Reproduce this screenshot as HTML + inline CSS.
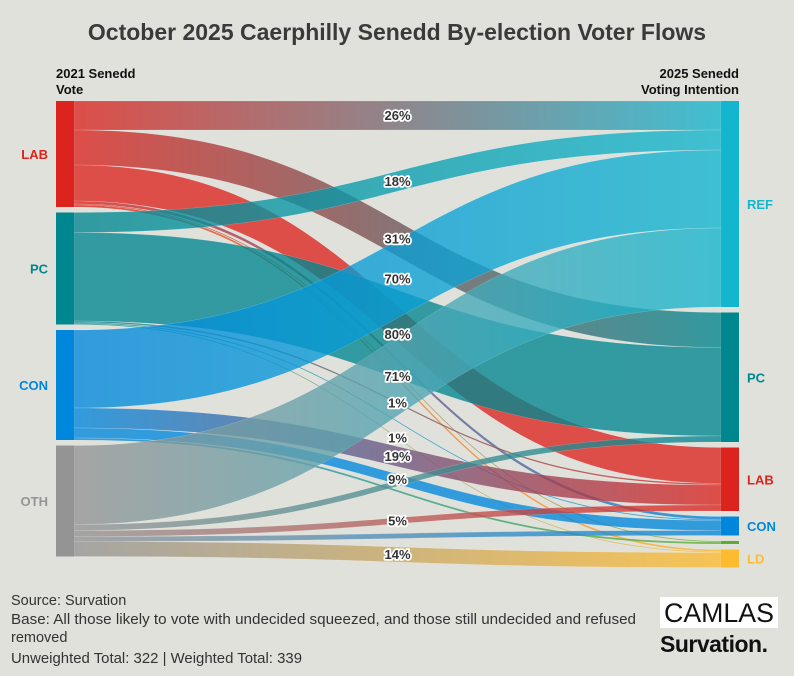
<!DOCTYPE html>
<html><head><meta charset="utf-8"><style>
body{margin:0;background:#e1e1db;}
svg{display:block;font-family:"Liberation Sans",sans-serif;}
.lbl{font-weight:bold;font-size:13px;fill:#333;stroke:#fff;stroke-width:3.5px;paint-order:stroke;stroke-linejoin:round;}
.foot{font-size:14.5px;fill:#333;}
</style></head><body>
<svg id="chart" width="794" height="676" viewBox="0 0 794 676">
<rect width="794" height="676" fill="#e1e1db"/>
<text x="397" y="40" text-anchor="middle" font-size="23" font-weight="bold" fill="#3a3a3a">October 2025 Caerphilly Senedd By-election Voter Flows</text>
<text x="56" y="78" font-size="13" font-weight="bold" fill="#111"><tspan x="56">2021 Senedd</tspan><tspan x="56" dy="16">Vote</tspan></text>
<text x="739" y="78" font-size="13" font-weight="bold" fill="#111" text-anchor="end"><tspan x="739">2025 Senedd</tspan><tspan x="739" dy="16">Voting Intention</tspan></text>
<defs id="defs"></defs>
<g id="links"></g><g id="nodes"></g><g id="labels"></g>
<text class="foot" x="11" y="605">Source: Survation</text>
<text class="foot" x="11" y="624" textLength="625" lengthAdjust="spacingAndGlyphs">Base: All those likely to vote with undecided squeezed, and those still undecided and refused</text>
<text class="foot" x="11" y="642">removed</text>
<text class="foot" x="11" y="663" textLength="291" lengthAdjust="spacingAndGlyphs">Unweighted Total: 322 | Weighted Total: 339</text>
<rect x="660" y="597" width="118" height="31" fill="#fff"/>
<text x="719" y="622" text-anchor="middle" font-size="27" fill="#111" textLength="110" lengthAdjust="spacingAndGlyphs">CAMLAS</text>
<text x="660" y="652" font-size="23" font-weight="bold" fill="#111" letter-spacing="-0.5">Survation.</text>
</svg>
<script>
const leftNodes=["LAB","PC","CON","OTH"];
const rightNodes=["REF","PC","LAB","CON","GRN","LD"];
const leftColors=["#dc241f","#00868f","#0087dc","#949494"];
const rightColors=["#12b6cf","#00868f","#dc241f","#0087dc","#5fad2e","#fdbb30"];
const rightShow=["REF","PC","LAB","CON","","LD"];
// flows: source index, target index, weighted value, label
const flowSrc=[0,0,0,0,0,0, 1,1,1,1,1, 2,2,2,2, 3,3,3,3,3];
const flowTgt=[0,1,2,3,4,5, 0,1,2,3,5, 0,2,3,4, 0,1,2,3,5];
const flowVal=[29,35,36,3,1,2, 20,88.5,1.5,1,1, 78,20,10,2, 79,6,6,5,15];
const flowLbl=["26%","31%","","","","", "18%","80%","1%","","1%", "70%","19%","9%","", "71%","","5%","","14%"];

const NS="http://www.w3.org/2000/svg";
const X0=56,NW=18,X1=721,Y0=101,GAP=5.5,K=1;
function mk(t,a){const e=document.createElementNS(NS,t);for(const n in a)e.setAttribute(n,a[n]);return e;}
function layout(n,side){const tot=new Array(n).fill(0);flowVal.forEach((v,i)=>{tot[side?flowTgt[i]:flowSrc[i]]+=v;});
 const y=[];let c=Y0;for(let i=0;i<n;i++){y.push(c);c+=tot[i]*K+GAP;}return {y,tot};}
const Lay=layout(leftNodes.length,0),Ray=layout(rightNodes.length,1);
const lOff=Lay.y.slice();
const defsEl=document.getElementById('defs'),gL=document.getElementById('links'),gLab=document.getElementById('labels'),gN=document.getElementById('nodes');
const order=flowVal.map((v,i)=>i);
const geo=[];
order.forEach(i=>{const s=flowSrc[i],h=flowVal[i]*K;geo[i]={sy:lOff[s],ty:0,h};lOff[s]+=h;});
for(let t=0;t<rightNodes.length;t++){let c=Ray.y[t];order.filter(i=>flowTgt[i]===t).sort((a,b)=>flowSrc[a]-flowSrc[b]).forEach(i=>{geo[i].ty=c;c+=geo[i].h;});}
const xa=X0+NW,xb=X1,xm=(xa+xb)/2;
order.forEach(i=>{const g=geo[i],s=flowSrc[i],t=flowTgt[i];
 const gr=mk('linearGradient',{id:'g'+i,gradientUnits:'userSpaceOnUse',x1:xa,y1:0,x2:xb,y2:0});
 gr.appendChild(mk('stop',{offset:'0','stop-color':leftColors[s]}));gr.appendChild(mk('stop',{offset:'1','stop-color':rightColors[t]}));defsEl.appendChild(gr);
 const d=`M${xa},${g.sy} C${xm},${g.sy} ${xm},${g.ty} ${xb},${g.ty} L${xb},${g.ty+g.h} C${xm},${g.ty+g.h} ${xm},${g.sy+g.h} ${xa},${g.sy+g.h} Z`;
 const p=mk('path',{d,fill:`url(#g${i})`,'fill-opacity':'0.78',stroke:'rgba(255,255,255,0.25)','stroke-width':'0.5'});
 
 
 gL.appendChild(p);
 if(flowLbl[i]){const y=(g.sy+g.ty+g.h)/2;const tx=mk('text',{x:xm,y:y+4.5,'text-anchor':'middle',class:'lbl'});tx.textContent=flowLbl[i];
  
  
  gLab.appendChild(tx);}
});
leftNodes.forEach((n,i)=>{const h=Lay.tot[i]*K;const r=mk('rect',{x:X0,y:Lay.y[i],width:NW,height:h,fill:leftColors[i]});
 
 
 gN.appendChild(r);
 const tx=mk('text',{x:48,y:Lay.y[i]+h/2+5,'text-anchor':'end','font-size':'13','font-weight':'bold',fill:leftColors[i]});tx.textContent=n;
 
 
 gN.appendChild(tx);});
rightNodes.forEach((n,i)=>{const h=Ray.tot[i]*K;const r=mk('rect',{x:X1,y:Ray.y[i],width:NW,height:h,fill:rightColors[i]});
 
 
 gN.appendChild(r);
 if(rightShow[i]){const tx=mk('text',{x:747,y:Ray.y[i]+h/2+5,'font-size':'13','font-weight':'bold',fill:rightColors[i]});tx.textContent=rightShow[i];
 
 
 gN.appendChild(tx);}});
</script>
</body></html>
